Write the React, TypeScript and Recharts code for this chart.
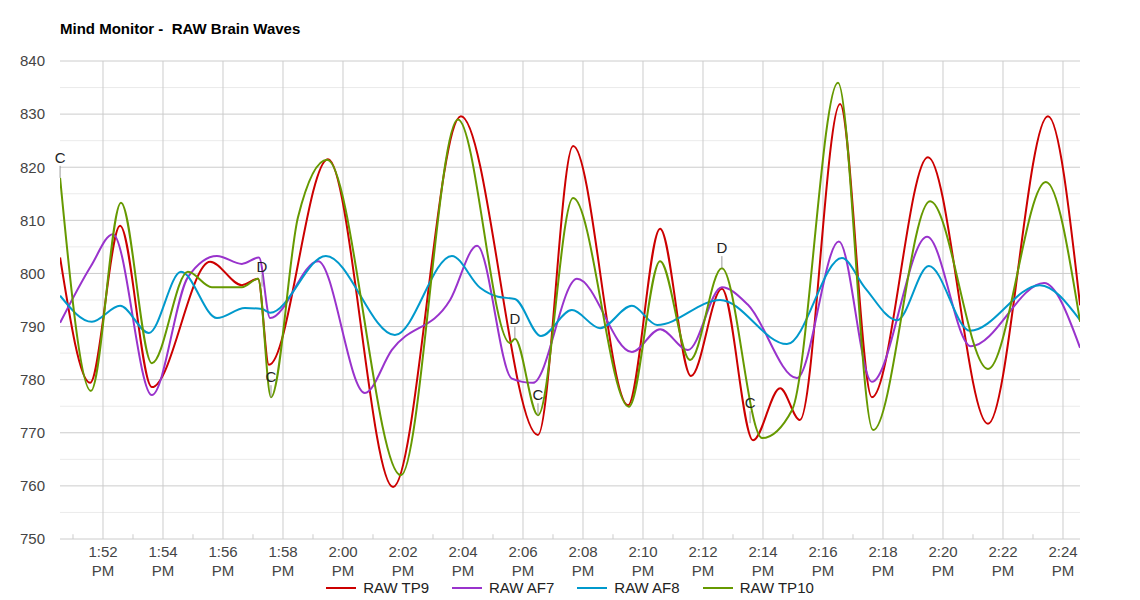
import {
  LineChart, Line, XAxis, YAxis,
  ReferenceLine, ReferenceDot,
} from 'recharts'

// x = minutes after 1:50 PM, y = raw value
const tp9: [number, number][] = [
  [0.57, 803], [1.57, 779.4], [2.57, 809], [3.63, 778.6], [5.57, 802.2], [6.63, 797.8],
  [7.17, 799], [7.53, 782.8], [9.5, 821.5], [11.67, 759.8], [13.93, 829.6], [16.5, 769.6],
  [17.67, 824], [19.5, 775.2], [20.57, 808.4], [21.6, 780.7], [22.63, 797.1], [23.67, 768.6],
  [24.57, 778.4], [25.23, 772.4], [26.57, 831.9], [27.63, 776.7], [29.5, 821.9], [31.5, 771.7],
  [33.5, 829.6], [34.57, 794],
]
const af7: [number, number][] = [
  [0.57, 790.7], [1.6, 801.4], [2.33, 807.4], [3.63, 777.1], [4.83, 799.3], [5.8, 803.3],
  [6.63, 801.8], [7.2, 803], [7.57, 791.6], [9.17, 802.3], [10.73, 777.5], [11.63, 785.6],
  [13.57, 795], [14.47, 805.2], [15.63, 780.2], [16.33, 779.4], [17.8, 799], [19.63, 785.2],
  [20.57, 789.5], [21.5, 785.6], [22.63, 797.4], [23.5, 794.1], [25.13, 780.3], [26.53, 806],
  [27.63, 779.6], [29.47, 806.9], [30.93, 786.3], [33.37, 798.2], [34.57, 786],
]
const af8: [number, number][] = [
  [0.57, 795.8], [1.63, 790.9], [2.57, 793.9], [3.53, 788.8], [4.6, 800.3], [5.8, 791.6],
  [6.73, 793.5], [7.3, 793.3], [7.57, 792.6], [9.43, 803.3], [11.73, 788.4], [13.63, 803.3],
  [14.57, 797.3], [15.17, 795.6], [15.73, 795.2], [16.6, 788.2], [17.63, 793.1], [18.57, 789.7],
  [19.63, 793.9], [20.47, 790.3], [22.57, 795], [24.8, 786.7], [26.63, 802.9], [27.4, 797.3],
  [28.47, 791.2], [29.53, 801.4], [30.9, 789.2], [33.23, 797.8], [34.57, 791.2],
]
const tp10: [number, number][] = [
  [0.57, 818], [1.6, 777.9], [2.6, 813.3], [3.63, 783.1], [4.83, 800.3], [5.63, 797.4],
  [6.63, 797.4], [7.17, 799], [7.6, 776.7], [8.5, 810.6], [9.47, 821.4], [11.93, 762],
  [13.83, 829], [15.57, 786.9], [15.73, 787.7], [16.5, 773.3], [17.67, 814.2], [19.53, 774.9],
  [20.57, 802.3], [21.57, 783.7], [22.63, 801], [23.97, 769], [24.97, 774.3], [26.5, 835.9],
  [27.67, 770.5], [29.57, 813.6], [31.5, 782], [33.43, 817.2], [34.57, 790.9],
]

const annotations: { t: number; v: number; text: string }[] = [
  { t: 0.57, v: 818, text: 'C' },
  { t: 7.3, v: 797.5, text: 'D' },
  { t: 7.6, v: 776.7, text: 'C' },
  { t: 15.73, v: 787.7, text: 'D' },
  { t: 16.5, v: 773.3, text: 'C' },
  { t: 22.63, v: 801, text: 'D' },
  { t: 23.57, v: 771.8, text: 'C' },
]

const xTicks = [2, 4, 6, 8, 10, 12, 14, 16, 18, 20, 22, 24, 26, 28, 30, 32, 34]
const xTickLabels = [
  '1:52 PM', '1:54 PM', '1:56 PM', '1:58 PM', '2:00 PM', '2:02 PM', '2:04 PM', '2:06 PM', '2:08 PM',
  '2:10 PM', '2:12 PM', '2:14 PM', '2:16 PM', '2:18 PM', '2:20 PM', '2:22 PM', '2:24 PM',
]
const xMinorTicks = [1, 3, 5, 7, 9, 11, 13, 15, 17, 19, 21, 23, 25, 27, 29, 31, 33]
const yTicks = [750, 760, 770, 780, 790, 800, 810, 820, 830, 840]
const yMinorTicks = [755, 765, 775, 785, 795, 805, 815, 825, 835]

const series = [
  { name: 'RAW TP9', color: '#cc0000', points: tp9 },
  { name: 'RAW AF7', color: '#9933cc', points: af7 },
  { name: 'RAW AF8', color: '#0099cc', points: af8 },
  { name: 'RAW TP10', color: '#669900', points: tp10 },
]

const FONT = 'Arial, "Liberation Sans", sans-serif'

function TimeTick({ x, y, payload }: { x?: number; y?: number; payload?: { value: number } }) {
  const i = xTicks.indexOf(payload?.value ?? -1)
  const [time, ampm] = (xTickLabels[i] ?? '').split(' ')
  return (
    <text x={x} y={(y ?? 0) + 16} textAnchor="middle" fill="#444" fontSize={15} fontFamily={FONT}>
      <tspan x={x}>{time}</tspan>
      <tspan x={x} dy={18.5}>{ampm}</tspan>
    </text>
  )
}

function AnnotationMark({ cx, cy, text }: { cx?: number; cy?: number; text: string }) {
  if (cx == null || cy == null) return <g />
  return (
    <g>
      <line x1={cx} x2={cx} y1={cy - 12} y2={cy} stroke="#999" strokeWidth={1} />
      <text x={cx} y={cy - 15} textAnchor="middle" fill="#222" fontSize={15} fontFamily={FONT}>{text}</text>
    </g>
  )
}

export default function App() {
  return (
    <div style={{ position: 'absolute', top: 0, left: 0, width: 1140, height: 600, background: '#fff', fontFamily: FONT }}>
      <div style={{ position: 'absolute', left: 60, top: 20, fontSize: 15, fontWeight: 'bold', color: '#000', whiteSpace: 'pre' }}>
        Mind Monitor -  RAW Brain Waves
      </div>
      <LineChart width={1140} height={600} margin={{ top: 61, right: 60, bottom: 21, left: 10 }}>
        {yMinorTicks.map(v => (
          <ReferenceLine key={`ym${v}`} y={v} stroke="#ebebeb" strokeWidth={1} />
        ))}
        {yTicks.map(v => (
          <ReferenceLine key={`yv${v}`} y={v} stroke="#cccccc" strokeWidth={1} />
        ))}
        {xTicks.map(t => (
          <ReferenceLine key={`xv${t}`} x={t} stroke="#cccccc" strokeWidth={1} />
        ))}
        {xMinorTicks.map(t => (
          <ReferenceLine key={`xm${t}`} segment={[{ x: t, y: 750 }, { x: t, y: 750.9 }]} stroke="#cccccc" />
        ))}
        <XAxis
          dataKey="t" type="number" domain={[0.567, 34.567]} ticks={xTicks}
          allowDataOverflow axisLine={false} tickLine={false} tickSize={0} height={40}
          tick={<TimeTick />} interval={0}
        />
        <YAxis
          type="number" domain={[750, 840]} ticks={yTicks} width={50}
          axisLine={false} tickLine={false} tickSize={0} tickMargin={15}
          tick={{ fill: '#444', fontSize: 15, fontFamily: FONT }}
        />
        {series.map(s => (
          <Line
            key={s.name}
            data={s.points.map(([t, v]) => ({ t, v }))}
            dataKey="v" name={s.name}
            type="monotone" stroke={s.color} strokeWidth={2}
            dot={false} activeDot={false} isAnimationActive={false}
          />
        ))}
        {annotations.map((a, i) => (
          <ReferenceDot
            key={`a${i}`} x={a.t} y={a.v} ifOverflow="visible"
            shape={(p: { cx?: number; cy?: number }) => <AnnotationMark cx={p.cx} cy={p.cy} text={a.text} />}
          />
        ))}
      </LineChart>
      <div style={{ position: 'absolute', top: 579, left: 0, width: 1140, display: 'flex', justifyContent: 'center', gap: 23, fontSize: 15, lineHeight: '17px', color: '#222' }}>
        {series.map(s => (
          <div key={s.name} style={{ display: 'flex', alignItems: 'center', gap: 7 }}>
            <span style={{ display: 'inline-block', width: 30, height: 2, background: s.color }} />
            <span>{s.name}</span>
          </div>
        ))}
      </div>
    </div>
  )
}
